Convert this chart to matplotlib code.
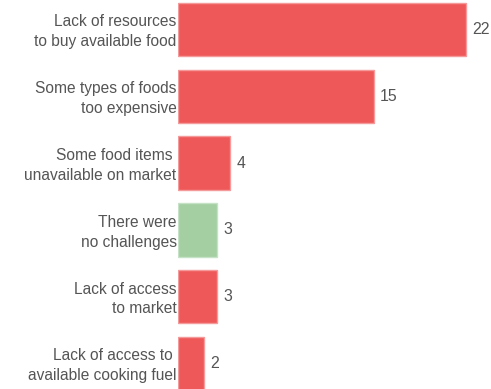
import matplotlib.pyplot as plt
import matplotlib.transforms as mtransforms

categories = ["Lack of resources\nto buy available food",
              "Some types of foods\ntoo expensive",
              "Some food items \nunavailable on market",
              "There were\nno challenges",
              "Lack of access\nto market",
              "Lack of access to \navailable cooking fuel"]
values = [22, 15, 4, 3, 3, 2]
colors = ["#EE5859", "#EE5859", "#EE5859", "#A3CFA3", "#EE5859", "#EE5859"]
edges = ["#F49A9A", "#F49A9A", "#F49A9A", "#C6E2C6", "#F49A9A", "#F49A9A"]

plt.rcParams['font.family'] = ['Liberation Sans', 'DejaVu Sans']

W, H = 491, 389
fig = plt.figure(figsize=(W / 100, H / 100), dpi=100)
x0 = 178
px_per_unit = 13.09
xmax = 23.6
ax = fig.add_axes([x0 / W, 0, xmax * px_per_unit / W, 1])

pos = list(range(len(values)))
ax.barh(pos, values, height=0.8, color=colors, edgecolor=edges, linewidth=1)
pitch = 66.8
top = 29.5
ax.set_ylim((H - top) / pitch, -top / pitch)
ax.set_xlim(0, xmax)

for i, v in enumerate(values):
    ax.text(v + 0.45, i, str(v), va='center', ha='left', fontsize=11.4, color='#555555')

ax.set_yticks(pos)
ax.set_yticklabels(categories, fontsize=11.2, color='#555555', linespacing=1.4)
ax.tick_params(axis='y', length=0, pad=1)
shift = mtransforms.ScaledTranslation(0, 1.5 / 100, fig.dpi_scale_trans)
for lbl in ax.get_yticklabels():
    lbl.set_transform(lbl.get_transform() + shift)
ax.set_xticks([])
for s in ax.spines.values():
    s.set_visible(False)

fig.savefig("out.png", dpi=100)
